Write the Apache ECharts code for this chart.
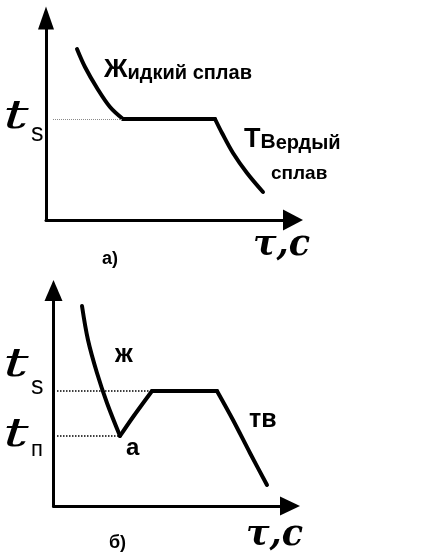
<!DOCTYPE html>
<html>
<head>
<meta charset="utf-8">
<script src="https://cdn.jsdelivr.net/npm/echarts@6/dist/echarts.min.js"></script>
<style>
  html, body { margin: 0; padding: 0; background: #fff; }
  #c { width: 426px; height: 555px; }
</style>
</head>
<body>
<div id="c"></div>
<script>
// Curve (а): cooling of a pure metal — liquid, crystallisation plateau at t_s, solid
const liquidA  = [[12.4, 85.5], [15.6, 76.5], [20.4, 66], [25.6, 56.5], [30.8, 50.5]];
const plateauA = [[30.8, 50.5], [67.6, 50.5]];
const solidA   = [[67.6, 50.5], [70.4, 43.5], [74.8, 33.5], [80.4, 23.5], [86.8, 14]];
const tsA = 50.5;

// Curve (б): cooling with supercooling down to t_п (point а), then back to t_s
const liquidB  = [[11.4, 100], [13.8, 83], [17.4, 66.5], [21.4, 51.5], [26.6, 35]];
const riseB    = [[26.6, 35], [31.8, 44.5], [39.4, 57.5]];
const plateauB = [[39.4, 57.5], [65.4, 57.5]];
const solidB   = [[65.4, 57.5], [71.8, 43], [78.6, 26.5], [85.4, 10.5]];
const tsB = 57.5;
const tnB = 35;

// Axis ranges (time, temperature) for both panels
const xMaxA = 98.8, yMaxA = 101;
const xMaxB = 94.6, yMaxB = 107.75;

const chart = echarts.init(document.getElementById('c'), null, { renderer: 'canvas' });

function axis(gi, max, arrow) {
  return {
    type: 'value', gridIndex: gi, min: 0, max: max,
    axisLine: {
      show: true, onZero: false,
      symbol: ['none', 'triangle'], symbolSize: arrow,
      lineStyle: { color: '#000', width: 3 }
    },
    axisTick: { show: false }, axisLabel: { show: false }, splitLine: { show: false }
  };
}

function curve(data, gi, smooth, mark) {
  const s = {
    type: 'line', xAxisIndex: gi, yAxisIndex: gi, data: data,
    smooth: smooth, symbol: 'none', silent: true,
    lineStyle: { color: '#000', width: 4, cap: 'round', join: 'round' }
  };
  if (mark) s.markLine = mark;
  return s;
}

function guide(fromX, toX, y, color, width) {
  return {
    silent: true, symbol: ['none', 'none'], label: { show: false },
    lineStyle: { type: 'dotted', color: color, width: width },
    data: [[{ coord: [fromX, y] }, { coord: [toX, y] }]]
  };
}

const pointA = liquidB[liquidB.length - 1];

chart.setOption({
  animation: false,
  backgroundColor: '#fff',
  grid: [
    { left: 46, top: 18, width: 247, height: 202 },
    { left: 53.5, top: 290.5, width: 236.5, height: 215.5 }
  ],
  xAxis: [axis(0, xMaxA, [21, 20]), axis(1, xMaxB, [19, 20])],
  yAxis: [axis(0, yMaxA, [16, 23]), axis(1, yMaxB, [18, 21])],
  series: [
    curve(liquidA, 0, 0.35),
    curve(plateauA, 0, false, guide(2.8, plateauA[0][0], tsA, '#8a8a8a', 1)),
    curve(solidA, 0, 0.35),
    curve(liquidB, 1, 0.35, guide(1.4, pointA[0], tnB, '#000', 1.5)),
    curve(riseB, 1, 0.3),
    curve(plateauB, 1, false, guide(1.4, plateauB[0][0], tsB, '#000', 1.5)),
    curve(solidB, 1, 0.3)
  ]
});

// Text annotations placed from axis coordinates
const pA = v => chart.convertToPixel({ gridIndex: 0 }, v);
const pB = v => chart.convertToPixel({ gridIndex: 1 }, v);
const sans = '"Liberation Sans", Arial, sans-serif';
const serif = '"DejaVu Serif", serif';

function txt(x, y, text, font, rich, sx) {
  const style = { x: 0, y: 0, text: text, font: font, fill: '#000',
                  textAlign: 'left', textVerticalAlign: 'bottom' };
  if (rich) style.rich = rich;
  const el = { type: 'text', x: x, y: y, silent: true, style: style };
  if (sx) { el.scaleX = sx; }
  return el;
}

const tFont = 'italic 40px ' + serif;
const tsAy = pA([0, tsA])[1];
const tsBy = pB([0, tsB])[1];
const tnBy = pB([0, tnB])[1];

chart.setOption({
  graphic: [
    // panel а
    txt(3, tsAy + 19, 't', tFont, null, 1.6),
    txt(31, tsAy + 28, 's', '25px ' + sans),
    txt(104, 83, '{a|Ж}{b|идкий сплав}', 'bold 20px ' + sans, {
      a: { font: 'bold 26px ' + sans, verticalAlign: 'bottom' },
      b: { font: 'bold 20px ' + sans, verticalAlign: 'bottom' }
    }),
    txt(244, 153, '{a|Т}{b|В}{c|ердый}', 'bold 20px ' + sans, {
      a: { font: 'bold 27px ' + sans, verticalAlign: 'bottom' },
      b: { font: 'bold 21px ' + sans, verticalAlign: 'bottom' },
      c: { font: 'bold 20px ' + sans, verticalAlign: 'bottom' }
    }),
    txt(271, 183, 'сплав', 'bold 19px ' + sans),
    txt(102, 268, 'а)', 'bold 18px ' + sans),
    txt(253, 263, 'τ,c', 'bold italic 35px ' + serif),
    // panel б
    txt(3, tsBy - 5, 't', tFont, null, 1.6),
    txt(31, tsBy + 9, 's', '25px ' + sans),
    txt(3, tnBy + 20, 't', tFont, null, 1.6),
    txt(31, tnBy + 25, 'п', '22px ' + sans),
    txt(115, 368, 'ж', 'bold 25px ' + sans),
    txt(249, 433, 'тв', 'bold 25px ' + sans),
    txt(126, 460, 'а', 'bold 24px ' + sans),
    txt(109, 552, 'б)', 'bold 18px ' + sans),
    txt(246, 553, 'τ,c', 'bold italic 35px ' + serif)
  ]
});
</script>
</body>
</html>
